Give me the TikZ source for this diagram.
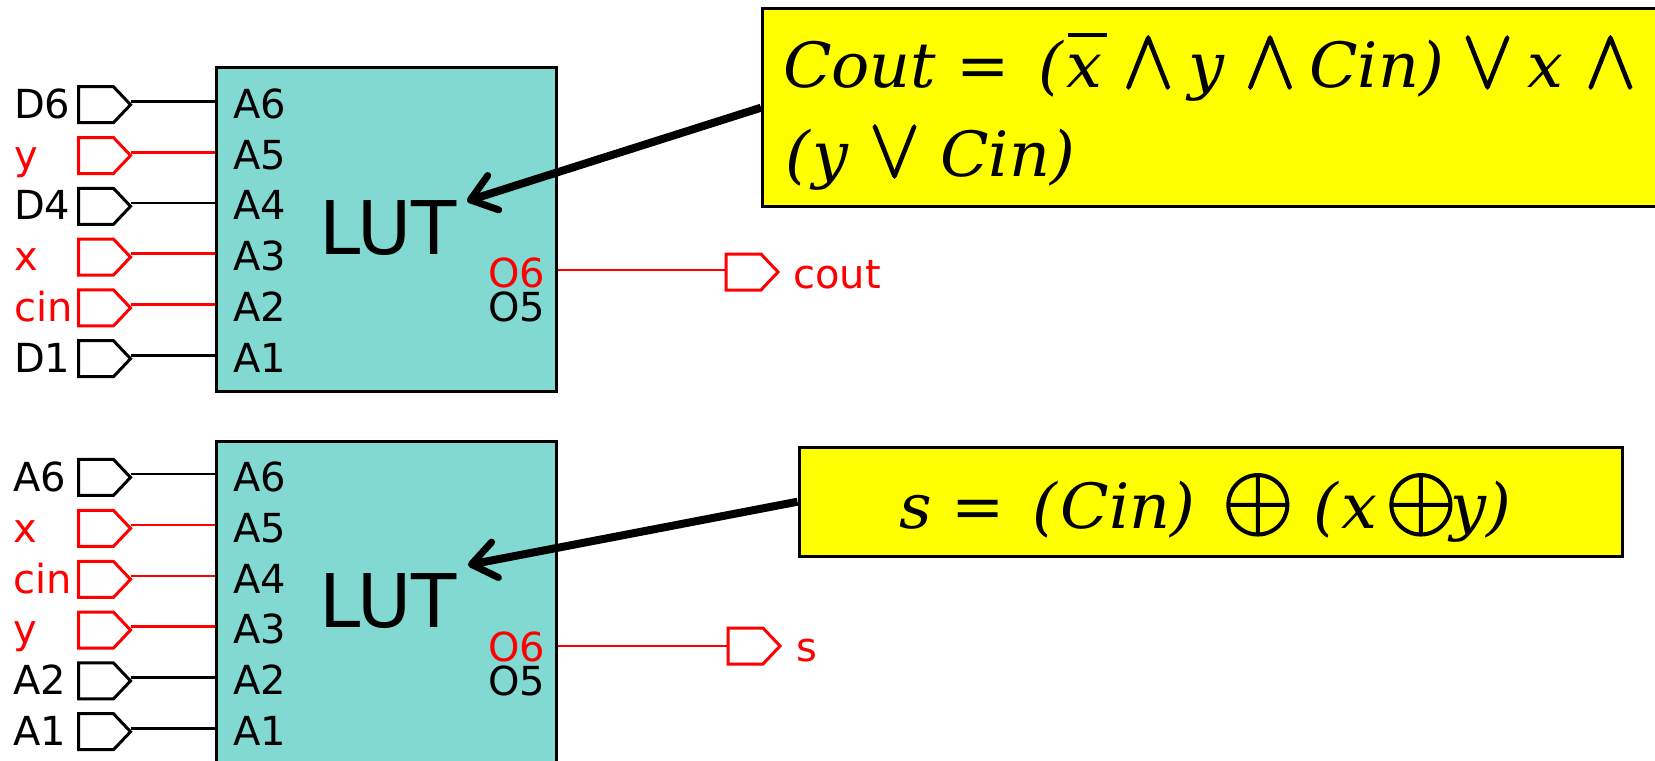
\documentclass[tikz,border=0pt]{standalone}
\usepackage{fontspec}
\usepackage{graphicx}
\usetikzlibrary{shapes.symbols,arrows.meta}
\setmainfont{DejaVu Sans}
\newfontfamily\eqfont{DejaVu Serif}
\definecolor{luttint}{RGB}{130,217,210}
\definecolor{sigred}{RGB}{255,0,0}
\definecolor{eqyellow}{RGB}{255,255,0}
\newcommand{\eqtext}[1]{\scalebox{1.06}[1.04]{\fontsize{60bp}{70bp}\selectfont\eqfont\itshape #1}}
\newcommand{\fatop}[1]{\special{pdf:code q 2 Tr 0.45 w}#1\special{pdf:code 0 Tr Q}}
\newcommand{\andop}{\scalebox{2.9}[3.3]{\fatop{$\wedge$}}}
\newcommand{\orop}{\scalebox{2.9}[3.3]{\fatop{$\vee$}}}
\newcommand{\xorop}{\scalebox{3.5}[3.6]{\fatop{$\oplus$}}}
\newcommand{\barx}{\leavevmode\rlap{\kern1bp\raise48bp\hbox{\vrule width 37bp height 4bp}}x}
\tikzset{
  lutbox/.style={draw=black,line width=3bp,fill=luttint,rectangle,anchor=north west,minimum width=340bp,minimum height=324bp,inner sep=0pt},
  port/.style={signal,signal to=east,signal pointer angle=93,draw=#1,line width=3bp,fill=white,minimum width=52bp,minimum height=36bp,inner sep=0pt,outer sep=0pt},
  wire/.style={draw=#1,line width=2.8bp},
  lbl/.style={anchor=base west,inner sep=0pt,outer sep=0pt,text=#1,font=\fontsize{40bp}{44bp}\selectfont},
  lblr/.style={anchor=base east,inner sep=0pt,outer sep=0pt,text=#1,font=\fontsize{40bp}{44bp}\selectfont},
  luttext/.style={anchor=base,inner sep=0pt,font=\fontsize{74bp}{80bp}\selectfont},
  eqbox/.style={draw=black,line width=3.4bp,fill=eqyellow,rectangle,anchor=north west,inner sep=0pt},
  eqline/.style={anchor=base west,inner sep=0pt,outer sep=0pt},
  callout/.style={draw=black,line width=8bp,-{Straight Barb[length=24bp,width=36bp,line width=7bp,round]}}
}
\begin{document}
\begin{tikzpicture}[x=1bp,y=-1bp]
\useasboundingbox (0,0) rectangle (1655,761);
\clip (0,0) rectangle (1655,761);
\fill[white] (0,0) rectangle (1655,761);

% upper LUT
\node[lutbox] (lutA) at (214.5,66) {};
\node[luttext] (lutAt) at (388,254) {LUT};
\node[lblr=sigred] (oA6) at (545,287) {O6};
\node[lblr=black] (oA5) at (545,321) {O5};
\foreach \i/\pin/\ext/\col/\yy in {1/A6/D6/black/101.3,2/A5/y/sigred/152.1,3/A4/D4/black/202.9,4/A3/x/sigred/253.7,5/A2/cin/sigred/304.5,6/A1/D1/black/355.3}{
  \node[port=\col] (pa\i) at (96,\yy+3.4) {};
  \coordinate (wa\i) at (lutA.west |- {0,\yy});
  \draw[wire=\col] (wa\i -| pa\i.east) -- (wa\i);
  \node[lbl=black] (ia\i) at (233,\yy+17) {\pin};
  \node[lbl=\col] (ea\i) at (14,\yy+17) {\ext};
}
\node[port=sigred] (pcout) at (743.5,272) {};
\coordinate (wcout) at (lutA.east |- {0,270});
\draw[draw=sigred,line width=1.5bp] (wcout) -- (wcout -| pcout.west);
\node[lbl=sigred] (tcout) at (793.5,288) {cout};

% lower LUT
\node[lutbox] (lutB) at (214.5,440) {};
\node[luttext] (lutBt) at (388,627) {LUT};
\node[lblr=sigred] (oB6) at (545,661) {O6};
\node[lblr=black] (oB5) at (545,695) {O5};
\foreach \i/\pin/\ext/\col/\yy in {1/A6/A6/black/474,2/A5/x/sigred/525,3/A4/cin/sigred/576,4/A3/y/sigred/626.7,5/A2/A2/black/677.5,6/A1/A1/black/728.3}{
  \node[port=\col] (pb\i) at (96,\yy+3.4) {};
  \coordinate (wb\i) at (lutB.west |- {0,\yy});
  \draw[wire=\col] (wb\i -| pb\i.east) -- (wb\i);
  \node[lbl=black] (ib\i) at (233,\yy+17) {\pin};
  \node[lbl=\col] (eb\i) at (13,\yy+17) {\ext};
}
\node[port=sigred] (ps) at (745.5,646) {};
\coordinate (ws) at (lutB.east |- {0,646});
\draw[wire=sigred] (ws) -- (ws -| ps.west);
\node[lbl=sigred] (ts) at (796,661) {s};

% formula boxes
\node[eqbox,minimum width=1000bp,minimum height=198bp] (fa) at (761,7) {};
\node[eqbox,minimum width=823bp,minimum height=109bp] (fb) at (797.5,445.5) {};
\coordinate (tipA) at (467,201);
\coordinate (tipB) at (468,565);
\draw[callout] (fa.west) -- (tipA);
\draw[callout] (fb.west) -- (tipB);

\node[eqline] (eqA1) at (783,87) {\eqtext{Cout =\kern8bp{} (\kern3bp\barx{} \andop{} \kern-5bp y \andop{} \kern-6bp Cin) \kern-2bp\orop{} \kern-5bp x \kern1bp\andop}};
\node[eqline] (eqA2) at (785,176) {\eqtext{(\kern3bp y \orop{} Cin)}};
\node[eqline] (eqB) at (899,528) {\eqtext{s =\kern7bp{} (\kern3bp Cin) \kern6bp\xorop{} (\kern3bp x\kern7bp\xorop{}\kern-6bp y)}};
\end{tikzpicture}
\end{document}
